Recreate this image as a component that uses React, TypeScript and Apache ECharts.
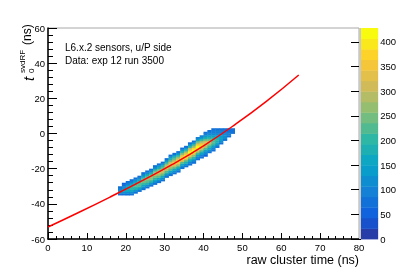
import { useEffect, useRef } from "react";
import * as echarts from "echarts";

// ---- data ----
const xBinStarts = [18, 19, 20, 21, 22, 23, 24, 25, 26, 27, 28, 29, 30, 31, 32, 33, 34, 35, 36, 37, 38, 39, 40, 41, 42, 43, 44, 45, 46, 47];
const yBinFirst = [-35, -35, -35, -35, -34, -33, -32, -31, -30, -29, -28, -27, -25, -24, -23, -22, -20, -19, -18, -17, -15, -14, -13, -11, -10, -8, -6, -4, -2, 0];
const binCounts = [
  [70, 110, 120, 100, 70],
  [80, 120, 150, 140, 110, 80, 60],
  [70, 120, 160, 180, 165, 130, 95, 65],
  [65, 110, 160, 195, 205, 185, 145, 100, 70],
  [75, 125, 175, 210, 220, 200, 155, 110, 70],
  [80, 130, 185, 225, 235, 215, 165, 115, 75],
  [70, 115, 165, 210, 245, 250, 220, 170, 115, 75],
  [70, 120, 175, 220, 255, 260, 230, 180, 120, 75],
  [75, 125, 180, 230, 265, 275, 240, 185, 125, 80],
  [70, 110, 160, 210, 255, 285, 280, 245, 185, 125, 80],
  [70, 115, 165, 215, 265, 300, 290, 250, 190, 130, 80],
  [70, 115, 170, 225, 275, 310, 300, 255, 195, 130, 80],
  [75, 120, 175, 235, 290, 325, 310, 260, 200, 135, 85],
  [70, 110, 160, 215, 270, 320, 335, 305, 250, 190, 130, 80],
  [70, 110, 165, 220, 280, 335, 350, 315, 255, 195, 130, 80],
  [70, 115, 170, 225, 290, 350, 365, 330, 265, 200, 135, 85],
  [75, 115, 170, 230, 300, 365, 380, 340, 270, 205, 140, 85],
  [75, 120, 175, 235, 305, 375, 395, 350, 280, 210, 140, 85],
  [70, 105, 150, 205, 265, 330, 390, 410, 360, 285, 210, 140, 85],
  [70, 105, 150, 205, 270, 340, 400, 420, 365, 290, 215, 145, 85],
  [65, 100, 145, 200, 265, 335, 395, 428, 370, 290, 215, 145, 90],
  [65, 100, 140, 190, 250, 315, 370, 385, 340, 270, 200, 140, 90],
  [60, 90, 125, 170, 225, 280, 320, 330, 300, 245, 185, 135, 100, 80],
  [75, 110, 155, 205, 250, 280, 285, 255, 205, 155, 115, 95, 85],
  [70, 100, 140, 180, 215, 235, 230, 200, 160, 120, 100, 90, 85],
  [80, 115, 155, 185, 195, 180, 150, 120, 100, 90, 85],
  [85, 120, 145, 150, 135, 115, 100, 90, 85],
  [85, 110, 120, 110, 95, 90, 85],
  [80, 95, 90, 85, 80],
  [70, 80, 75],
];
const fitX = [0, 8, 16, 24, 32, 40, 48, 56, 64.5];
const fitY = [-53.2, -44.8, -36.1, -27.1, -17.6, -7.0, 4.9, 18.0, 33.3];
const zMax = 428;
const zLevelCount = 20;
const xTitle = "raw cluster time (ns)";
const infoLines = ["L6.x.2 sensors, u/P side", "Data: exp 12 run 3500"];

// ROOT kBird palette stops (style)
const birdR = [0.2082, 0.0592, 0.078, 0.0232, 0.1802, 0.5301, 0.8186, 0.9956, 0.9764];
const birdG = [0.1664, 0.3599, 0.5041, 0.6419, 0.7178, 0.7492, 0.7328, 0.7862, 0.9832];
const birdB = [0.5293, 0.8684, 0.8385, 0.7914, 0.6425, 0.4662, 0.3499, 0.1968, 0.0539];

function birdColor(f: number): string {
  const p = Math.max(0, Math.min(1, f)) * 8;
  const i = Math.min(7, Math.floor(p));
  const t = p - i;
  const c = (a: number[]) => Math.round((a[i] + (a[i + 1] - a[i]) * t) * 255);
  return `rgb(${c(birdR)},${c(birdG)},${c(birdB)})`;
}
const levelColors = Array.from({ length: zLevelCount }, (_, i) =>
  birdColor(Math.floor(((i + 0.99) * 255) / zLevelCount) / 254)
);
function colorFor(v: number) {
  const lv = Math.min(zLevelCount - 1, Math.floor((v * zLevelCount) / zMax));
  return levelColors[lv];
}

const FONT = '"Liberation Sans", Arial, Helvetica, sans-serif';

export default function App() {
  const ref = useRef<HTMLDivElement>(null);
  useEffect(() => {
    if (!ref.current) return;
    const chart = echarts.init(ref.current, undefined, { renderer: "svg" });
    const cells: number[][] = [];
    xBinStarts.forEach((x, i) => {
      binCounts[i].forEach((v, j) => {
        if (v > 0) cells.push([x, yBinFirst[i] + j, v]);
      });
    });
    const levels = levelColors.map((_, i) => [i]);
    const fit = fitX.map((x, i) => [x, fitY[i]]);

    chart.setOption({
      animation: false,
      textStyle: { fontFamily: FONT },
      grid: [
        { left: 48, top: 28, width: 311, height: 211, show: true, borderColor: "#a8a8a8", borderWidth: 1, backgroundColor: "transparent" },
        { left: 361, top: 28, width: 19, height: 211 },
      ],
      xAxis: [
        {
          type: "value", gridIndex: 0, min: 0, max: 80, interval: 10,
          axisLine: { show: true, onZero: false, lineStyle: { color: "#000", width: 1.5 } },
          axisTick: { show: true, inside: true, length: 6, lineStyle: { color: "#000" } },
          minorTick: { show: true, splitNumber: 5, length: 3, lineStyle: { color: "#000" } },
          splitLine: { show: false },
          axisLabel: { color: "#000", fontSize: 9.5, margin: 3, fontFamily: FONT },
        },
        { type: "value", gridIndex: 1, min: 0, max: 1, show: false },
      ],
      yAxis: [
        {
          type: "value", gridIndex: 0, min: -60, max: 60, interval: 20,
          axisLine: { show: true, onZero: false, lineStyle: { color: "#000", width: 1.5 } },
          axisTick: { show: true, inside: true, length: 9, lineStyle: { color: "#000" } },
          minorTick: { show: true, splitNumber: 5, length: 5, lineStyle: { color: "#000" } },
          splitLine: { show: false },
          axisLabel: { color: "#000", fontSize: 9.5, margin: 3, fontFamily: FONT },
        },
        {
          type: "value", gridIndex: 1, min: 0, max: zMax, interval: 50, position: "right",
          axisLine: { show: false },
          axisTick: { show: true, inside: true, length: 10, lineStyle: { color: "#000" } },
          splitLine: { show: false },
          axisLabel: { color: "#000", fontSize: 9.5, margin: 2, showMaxLabel: false, fontFamily: FONT },
        },
      ],
      series: [
        {
          type: "custom", xAxisIndex: 0, yAxisIndex: 0, data: cells, z: 2,
          renderItem: (_p: any, api: any) => {
            const x = api.value(0), y = api.value(1), v = api.value(2);
            const a = api.coord([x, y + 1]);
            const b = api.coord([x + 1, y]);
            return {
              type: "rect",
              shape: { x: a[0], y: a[1], width: b[0] - a[0] + 0.4, height: b[1] - a[1] + 0.4 },
              style: { fill: colorFor(v) },
            };
          },
        },
        {
          type: "line", xAxisIndex: 0, yAxisIndex: 0, data: fit, smooth: true, symbol: "none", z: 5,
          lineStyle: { color: "#ff0000", width: 1.5 },
        },
        {
          type: "custom", xAxisIndex: 1, yAxisIndex: 1, data: levels, z: 2,
          renderItem: (_p: any, api: any) => {
            const i = api.value(0);
            const a = api.coord([0, ((i + 1) * zMax) / zLevelCount]);
            const b = api.coord([1, (i * zMax) / zLevelCount]);
            return {
              type: "rect",
              shape: { x: a[0], y: a[1], width: b[0] - a[0], height: b[1] - a[1] + 0.4 },
              style: { fill: levelColors[i] },
            };
          },
        },
      ],
      graphic: [
        { type: "rect", left: 359, top: 28, shape: { width: 2, height: 211 }, style: { fill: "#c8c8c8" }, z: 10 },
        { type: "text", left: 65, top: 42, style: { text: infoLines[0], fontSize: 10, fontFamily: FONT, fill: "#000" } },
        { type: "text", left: 65, top: 55, style: { text: infoLines[1], fontSize: 10, fontFamily: FONT, fill: "#000" } },
        { type: "text", right: 40, top: 253, style: { text: xTitle, fontSize: 12.5, fontFamily: FONT, fill: "#000" } },
        {
          type: "group", x: 33, y: 82, rotation: Math.PI / 2,
          children: [
            { type: "text", x: 1, y: -5, style: { text: "t", fontSize: 15, fontStyle: "italic", fontFamily: FONT, fill: "#000", verticalAlign: "middle" } },
            { type: "text", x: 9, y: -2, style: { text: "0", fontSize: 8, fontFamily: FONT, fill: "#000", verticalAlign: "middle" } },
            { type: "text", x: 9, y: -11, style: { text: "svdRF", fontSize: 8, fontFamily: FONT, fill: "#000", verticalAlign: "middle" } },
            { type: "text", x: 37, y: -6, style: { text: "(ns)", fontSize: 12, fontFamily: FONT, fill: "#000", verticalAlign: "middle" } },
          ],
        },
      ],
    });
    return () => chart.dispose();
  }, []);
  return <div ref={ref} style={{ position: "fixed", left: 0, top: 0, width: 399, height: 272 }} />;
}
